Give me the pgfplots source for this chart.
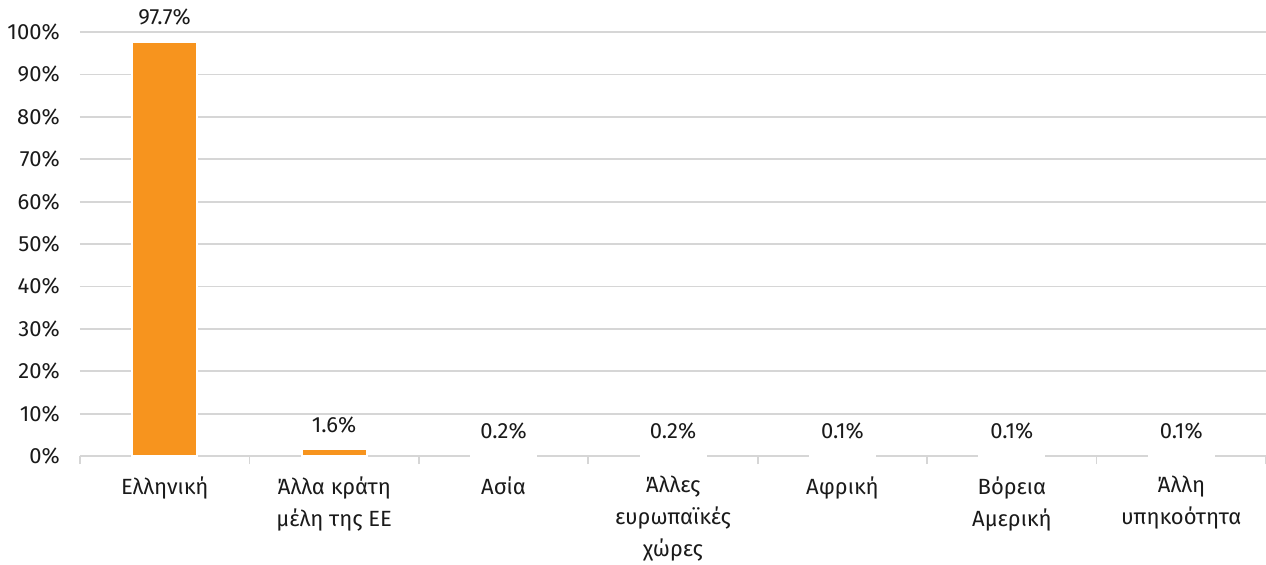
\documentclass[border=0pt]{standalone}
\usepackage{fontspec}
\setmainfont{Fira Sans}
\usepackage{pgfplots}
\pgfplotsset{compat=1.18}
\definecolor{barorange}{RGB}{247,148,30}
\definecolor{gridgray}{RGB}{214,214,214}
\definecolor{txt}{RGB}{26,26,26}
\begin{document}
\fontsize{11}{16}\selectfont
\begin{tikzpicture}
\begin{axis}[
  name=ax,
  /pgf/number format/assume math mode=true,
  scale only axis,
  width=593pt, height=212pt,
  xmin=-0.5, xmax=6.5,
  ymin=0, ymax=100,
  axis x line*=bottom,
  axis y line*=left,
  y axis line style={draw=none},
  ytick={0,10,...,100},
  yticklabel={\pgfmathprintnumber{\tick}\%},
  major y tick style={draw=none},
  ymajorgrids,
  grid style={gridgray, line width=0.9pt},
  xtick={0,...,6},
  major x tick style={draw=none},
  minor xtick={-0.5,0.5,...,6.5},
  minor x tick style={gridgray, line width=0.9pt},
  tick align=outside,
  minor tick length=4pt,
  x axis line style={gridgray, line width=0.9pt, -},
  xticklabels={Ελληνική, {Άλλα κράτη\\μέλη της ΕΕ}, Ασία, {Άλλες\\ευρωπαϊκές\\χώρες}, Αφρική, {Βόρεια\\Αμερική}, {Άλλη\\υπηκοότητα}},
  xticklabel style={align=center, text=txt, yshift=-2pt, font=\fontsize{11}{16}\selectfont},
  yticklabel style={text=txt, xshift=-2pt, font=\fontsize{11}{16}\selectfont},
  clip=false,
]
\addplot[ybar, bar width=32.5pt, fill=barorange, draw=white, line width=1pt,
  nodes near coords={\pgfmathprintnumber[fixed,fixed zerofill,precision=1]{\pgfplotspointmeta}\%},
  every node near coord/.append style={text=txt, anchor=south, yshift=4pt, font=\fontsize{11}{16}\selectfont},
] coordinates {(0,97.7) (1,1.6) (2,0.2) (3,0.2) (4,0.1) (5,0.1) (6,0.1)};
\end{axis}
\pgfresetboundingbox
\path[use as bounding box] ([xshift=-40pt,yshift=-54pt]ax.south west) rectangle ([yshift=16pt]ax.north east);
\end{tikzpicture}
\end{document}
